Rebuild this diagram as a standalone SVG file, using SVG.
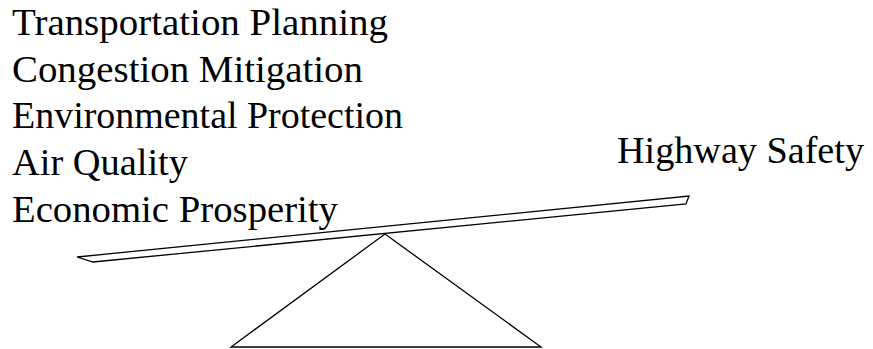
<svg xmlns="http://www.w3.org/2000/svg" width="873" height="349" viewBox="0 0 873 349">
<style>
.t{font-family:'Liberation Serif','DejaVu Serif',serif;font-size:38px;fill:#000}
.s{fill:#fff;stroke:#000;stroke-width:1.3}
</style>
<rect width="873" height="349" fill="#fff"/>
<g id="labels-left" class="t">
<text x="12" y="35" textLength="376" lengthAdjust="spacingAndGlyphs">Transportation Planning</text>
<text x="12" y="82" textLength="351" lengthAdjust="spacingAndGlyphs">Congestion Mitigation</text>
<text x="12" y="128" textLength="391" lengthAdjust="spacingAndGlyphs">Environmental Protection</text>
<text x="12" y="175" textLength="176" lengthAdjust="spacingAndGlyphs">Air Quality</text>
<text x="12" y="222" textLength="326" lengthAdjust="spacingAndGlyphs">Economic Prosperity</text>
</g>
<g id="label-right" class="t"><text x="617" y="163" textLength="247" lengthAdjust="spacingAndGlyphs">Highway Safety</text></g>
<g id="fulcrum"><polygon class="s" points="385,234 231,347 541,347"/></g>
<g id="beam"><polygon class="s" points="77,257 689,196 686,204 93,262"/></g>
</svg>
